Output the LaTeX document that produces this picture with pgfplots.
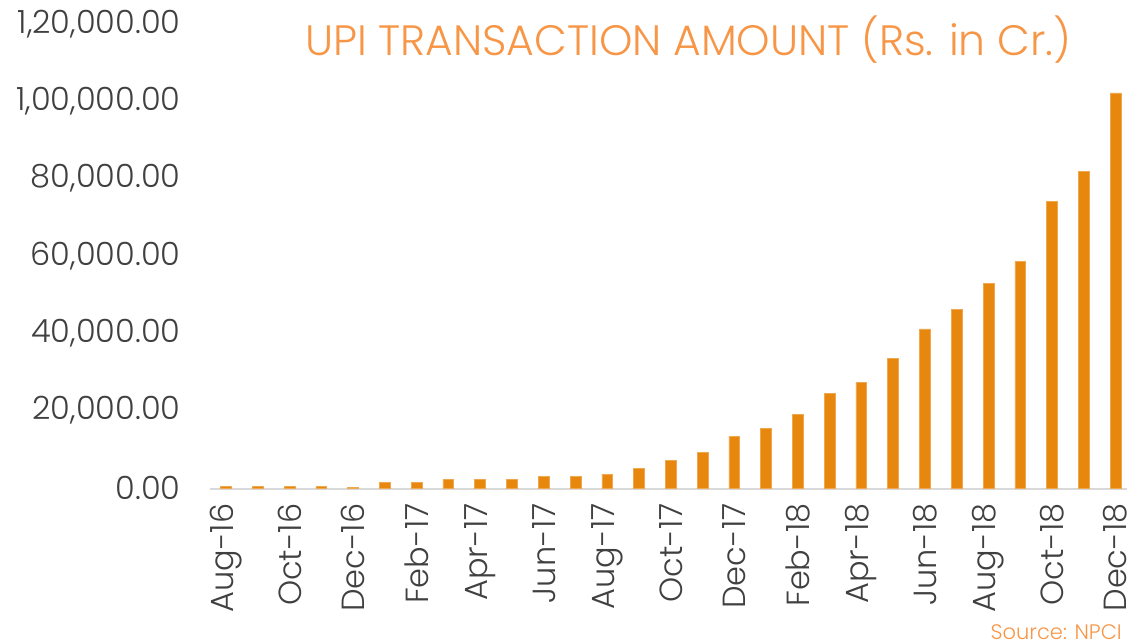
\documentclass[border=0pt]{standalone}
\usepackage{fontspec}
\setmainfont{Poppins}[UprightFont=* Light]
\usepackage{pgfplots}
\pgfplotsset{compat=1.18}
\definecolor{barc}{HTML}{E8870E}
\definecolor{barline}{HTML}{F0A850}
\definecolor{ttl}{HTML}{F79646}
\definecolor{tickc}{HTML}{404040}
\definecolor{axl}{HTML}{D9D9D9}
\begin{document}
\begin{tikzpicture}
\useasboundingbox (0,0) rectangle (1127pt,644pt);
\begin{axis}[
  at={(210.1pt,156pt)}, anchor=south west,
  scale only axis, width=921.3pt, height=464pt,
  xmin=-0.5, xmax=28.5, ymin=0, ymax=120000,
  clip=false,
  scaled y ticks=false,
  axis line style={draw=none},
  major tick style={draw=none},
  ytick={0,20000,40000,60000,80000,100000,120000},
  yticklabels={{0.00},{20,000.00},{40,000.00},{60,000.00},{80,000.00},{1,00,000.00},{1,20,000.00}},
  yticklabel style={font=\fontsize{32}{32}\selectfont, text=tickc, anchor=east, xshift=-26pt},
  xtick={0,2,...,28},
  xticklabels={Aug-16,Oct-16,Dec-16,Feb-17,Apr-17,Jun-17,Aug-17,Oct-17,Dec-17,Feb-18,Apr-18,Jun-18,Aug-18,Oct-18,Dec-18},
  xticklabel style={yshift=-12pt, rotate=90, anchor=east, font=\fontsize{32}{32}\selectfont, text=tickc},
]
\draw[axl, line width=2.5pt] ([yshift=-1.2pt]axis cs:-0.5,0) -- ([yshift=-1.2pt]axis cs:28.5,0);
\addplot[ybar, bar width=10.8pt, fill=barc, draw=barline, line width=0.6pt] coordinates {
(0,450) (1,450) (2,450) (3,450) (4,100)
(5,1550) (6,1550) (7,2240) (8,2240) (9,2240) (10,3020) (11,3020)
(12,3600) (13,5040) (14,7130) (15,9210) (16,13390)
(17,15470) (18,18960) (19,24440) (20,27290) (21,33560) (22,41130) (23,46090)
(24,53000) (25,58600) (26,74100) (27,81800) (28,102200)
};
\end{axis}
\node[anchor=base west, text=ttl, font=\fontsize{42.5}{42.5}\selectfont, inner sep=0pt] at (305pt,588pt) {UPI TRANSACTION AMOUNT (Rs. in Cr.)};
\node[anchor=base east, text=ttl, font=\fontsize{21}{21}\selectfont, inner sep=0pt] at (1122pt,4pt) {Source: NPCI};
\end{tikzpicture}
\end{document}
